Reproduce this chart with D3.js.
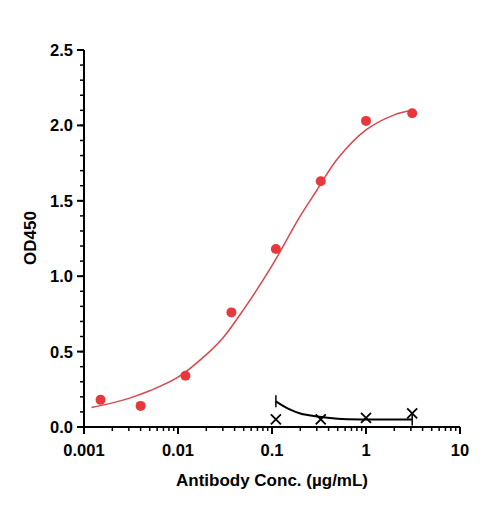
<!DOCTYPE html><html><head><script src="https://cdn.jsdelivr.net/npm/d3@7"></script>
<style>body{margin:0;background:#fff}text{font-family:Arial,"Liberation Sans",sans-serif;font-weight:bold}</style></head><body>
<svg id="c" width="485" height="508"></svg>
<script>
const redX=[0.0015,0.004,0.012,0.037,0.11,0.33,1,3.1];
const redY=[0.18,0.14,0.34,0.76,1.18,1.63,2.03,2.08];
const redCurveX=[0.0012,0.002,0.003,0.005,0.01,0.02,0.03,0.05,0.1,0.2,0.3,0.5,1,2,3.1];
const redCurveY=[0.13,0.16,0.19,0.24,0.33,0.48,0.59,0.78,1.07,1.40,1.57,1.78,1.97,2.07,2.10];
const blkX=[0.11,0.33,1,3.1];
const blkY=[0.05,0.05,0.06,0.09];
const blkCurveX=[0.11,0.15,0.2,0.3,0.5,1,2,3.1];
const blkCurveY=[0.17,0.12,0.09,0.07,0.055,0.05,0.05,0.05];
const xTicks=[0.001,0.01,0.1,1,10], xLabels=["0.001","0.01","0.1","1","10"];
const yTicks=[0,0.5,1,1.5,2,2.5], yLabels=["0.0","0.5","1.0","1.5","2.0","2.5"];
const svg=d3.select("#c");
const x=d3.scaleLog().domain([0.001,10]).range([84,460]);
const y=d3.scaleLinear().domain([0,2.5]).range([427,50]);
const g=svg.append("g");
const minorY=d3.range(0,2.51,0.1);
g.append("line").attr("x1",84).attr("x2",84).attr("y1",y(0)).attr("y2",y(2.5)).attr("stroke","#000").attr("stroke-width",2);
minorY.forEach(v=>g.append("line").attr("x1",84).attr("x2",80).attr("y1",y(v)).attr("y2",y(v)).attr("stroke","#000").attr("stroke-width",1.5));
yTicks.forEach((v,i)=>{g.append("line").attr("x1",84).attr("x2",77).attr("y1",y(v)).attr("y2",y(v)).attr("stroke","#000").attr("stroke-width",2);
 g.append("text").attr("x",73).attr("y",y(v)+6).attr("text-anchor","end").attr("font-size",16.5).text(yLabels[i]);});
g.append("line").attr("x1",x(0.001)).attr("x2",x(10)).attr("y1",427).attr("y2",427).attr("stroke","#000").attr("stroke-width",2);
[0.001,0.01,0.1,1].forEach(d=>{for(let k=2;k<10;k++)g.append("line").attr("x1",x(d*k)).attr("x2",x(d*k)).attr("y1",427).attr("y2",431).attr("stroke","#000").attr("stroke-width",1.5);});
xTicks.forEach((v,i)=>{g.append("line").attr("x1",x(v)).attr("x2",x(v)).attr("y1",427).attr("y2",434).attr("stroke","#000").attr("stroke-width",2);
 g.append("text").attr("x",x(v)).attr("y",456).attr("text-anchor","middle").attr("font-size",16.5).text(xLabels[i]);});
svg.append("text").attr("x",272).attr("y",486).attr("text-anchor","middle").attr("font-size",17).text("Antibody Conc. (µg/mL)");
svg.append("text").attr("transform","translate(36,238) rotate(-90)").attr("text-anchor","middle").attr("font-size",17).text("OD450");
const line=d3.line().x(d=>x(d[0])).y(d=>y(d[1])).curve(d3.curveCatmullRom);
svg.append("path").attr("d",line(redCurveX.map((v,i)=>[v,redCurveY[i]]))).attr("fill","none").attr("stroke","#d9474f").attr("stroke-width",1.5);
svg.append("path").attr("d",line(blkCurveX.map((v,i)=>[v,blkCurveY[i]]))).attr("fill","none").attr("stroke","#000").attr("stroke-width",2);
[[blkCurveX[0],blkCurveY[0]],[blkCurveX[blkCurveX.length-1],blkCurveY[blkCurveY.length-1]]].forEach(p=>svg.append("line").attr("x1",x(p[0])).attr("x2",x(p[0])).attr("y1",y(p[1])-6).attr("y2",y(p[1])+6).attr("stroke","#000").attr("stroke-width",1.5));
svg.selectAll(".r").data(redX).enter().append("circle").attr("cx",d=>x(d)).attr("cy",(d,i)=>y(redY[i])).attr("r",5).attr("fill","#e8373d");
blkX.forEach((v,i)=>{const cx=x(v),cy=y(blkY[i]);svg.append("path").attr("d",`M${cx-5},${cy-5}L${cx+5},${cy+5}M${cx-5},${cy+5}L${cx+5},${cy-5}`).attr("stroke","#000").attr("stroke-width",1.8);});
</script></body></html>
